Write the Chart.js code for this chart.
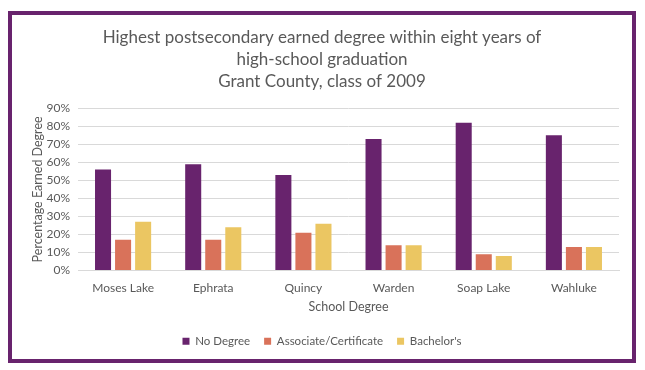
<!DOCTYPE html>
<html>
<head>
<meta charset="utf-8">
<script src="https://cdn.jsdelivr.net/npm/chart.js@4"></script>
<style>
  html, body { margin: 0; padding: 0; background: #fff; }
  #frame { position: absolute; left: 8px; top: 11px; width: 628px; height: 352px; border: 4px solid #68236D; box-sizing: border-box; }
  #wrap { position: absolute; left: 0; top: 0; width: 620px; height: 344px; }
</style>
</head>
<body>
<div id="frame"><div id="wrap"><canvas id="c" width="620" height="344"></canvas></div></div>
<script>
const categories = ["Moses Lake", "Ephrata", "Quincy", "Warden", "Soap Lake", "Wahluke"];
const noDegree = [56, 59, 53, 73, 82, 75];
const associate = [17, 17, 21, 14, 9, 13];
const bachelors = [27, 24, 26, 14, 8, 13];
const seriesNames = ["No Degree", "Associate/Certificate", "Bachelor's"];
const titleLines = ["Highest postsecondary earned degree within eight years of", "high-school graduation", "Grant County, class of 2009"];

const FONT = "Lato, 'Open Sans', sans-serif";
const TEXT = "#595959";

new Chart(document.getElementById("c"), {
  type: "bar",
  data: {
    labels: categories,
    datasets: [
      { label: seriesNames[0], data: noDegree, backgroundColor: "#68236D" },
      { label: seriesNames[1], data: associate, backgroundColor: "#D9725A" },
      { label: seriesNames[2], data: bachelors, backgroundColor: "#EBC662" }
    ]
  },
  options: {
    responsive: false,
    animation: false,
    categoryPercentage: 0.667,
    barPercentage: 0.8,
    layout: { padding: { left: 13, right: 13, top: 0, bottom: 2 } },
    plugins: {
      title: {
        display: true,
        text: titleLines,
        color: TEXT,
        font: { family: FONT, size: 17, weight: "normal", lineHeight: 1.3 },
        padding: { top: 11, bottom: 16 }
      },
      legend: {
        position: "bottom",
        labels: {
          color: TEXT,
          font: { family: FONT, size: 11.5 },
          boxWidth: 7,
          boxHeight: 7,
          padding: 14
        }
      },
      tooltip: { enabled: false }
    },
    scales: {
      x: {
        grid: { display: false, drawTicks: false },
        border: { display: true, color: "#D9D9D9" },
        ticks: { color: TEXT, font: { family: FONT, size: 12 }, padding: 10 },
        title: { display: true, text: "School Degree", color: TEXT, font: { family: FONT, size: 12.5 }, padding: { top: 4, bottom: 7 } },
        afterFit: (s) => { s.height = 51; }
      },
      y: {
        min: 0, max: 90,
        grid: { color: "#D9D9D9", drawTicks: false },
        border: { display: false },
        ticks: { stepSize: 10, color: TEXT, font: { family: FONT, size: 12 }, padding: 8, callback: (v) => v + "%" },
        title: { display: true, text: "Percentage Earned Degree", color: TEXT, font: { family: FONT, size: 12.5 }, padding: { top: 5, bottom: 0 } },
        afterFit: (s) => { s.width = 53; }
      }
    }
  }
});
</script>
</body>
</html>
